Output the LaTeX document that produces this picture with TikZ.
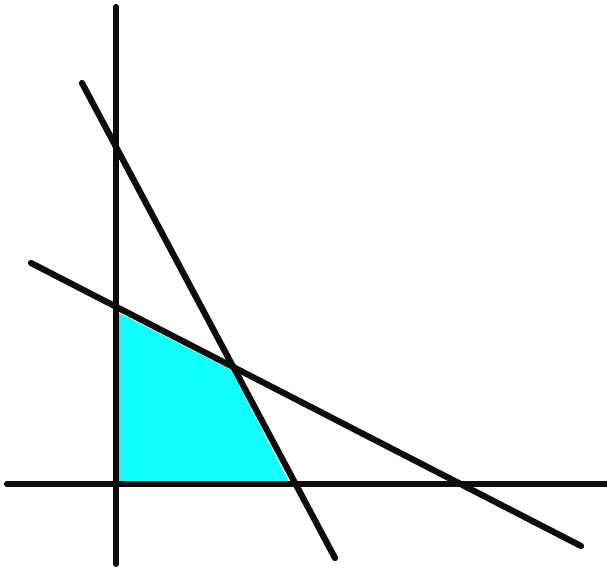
\documentclass[tikz,border=0pt]{standalone}
\definecolor{aqua}{RGB}{17,255,255}
\begin{document}
\begin{tikzpicture}[x=0.01cm,y=-0.01cm,
  axisline/.style={line width=0.062cm,draw=black!95,line cap=round},
  region/.style={fill=aqua}]
\useasboundingbox (0,0) rectangle (607,568);
% feasible region
\fill[region] (117,312) -- (231,370) -- (289,482) -- (117,482) -- cycle;
% constraint lines
\coordinate (s1) at (82,83);
\coordinate (s2) at (335,558);
\coordinate (t1) at (31,263);
\coordinate (t2) at (581,546);
\draw[axisline] (s1) -- (s2);
\draw[axisline] (t1) -- (t2);
% axes
\coordinate (v1) at (116,7);
\coordinate (v2) at (116,564);
\coordinate (h1) at (7,484);
\coordinate (h2) at (610,484);
\draw[axisline] (v1) -- (v2);
\draw[axisline] (h1) -- (h2);
\end{tikzpicture}
\end{document}
